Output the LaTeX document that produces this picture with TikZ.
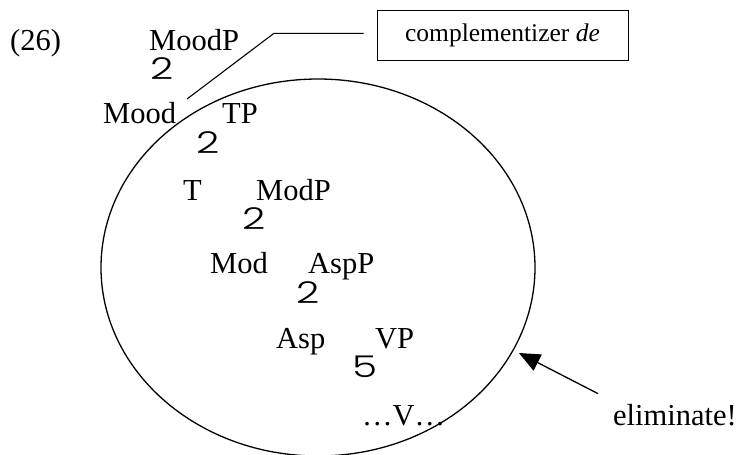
\documentclass[tikz,border=0pt]{standalone}
\usepackage{fontspec}
\setmainfont{Liberation Serif}
\newfontfamily\branchfont{Poppins Light}
\usetikzlibrary{arrows.meta,shapes.geometric,positioning}
\tikzset{
  cat/.style={anchor=base west,inner sep=0pt,font=\fontsize{30.5}{36}\selectfont},
  branch/.style={anchor=base west,inner sep=0pt,font=\branchfont\fontsize{30}{36}\selectfont},
  note/.style={draw,line width=1pt,minimum width=251pt,minimum height=50pt,inner sep=0pt,font=\fontsize{25.5}{30}\selectfont},
  pointer/.style={line width=1.3pt,-{Triangle[length=21pt,width=18pt]}}
}
\newcommand{\wideglyph}[1]{\scalebox{1.35}[1]{#1}}
\begin{document}
\begin{tikzpicture}[x=1pt,y=-1pt]
  \useasboundingbox (0,0) rectangle (737,455);
  \node[cat] (ex) at (10,50) {(26)};
  \node[cat] (moodp) at (149,50) {MoodP};
  \node[branch] (b1) at (150,79) {\wideglyph{2}};
  \node[cat] (mood) at (103,123) {Mood};
  \node[cat] (tp) at (222,123) {TP};
  \node[branch] (b2) at (196,153) {\wideglyph{2}};
  \node[cat] (t) at (183,200) {T};
  \node[cat] (modp) at (256,200) {ModP};
  \node[branch] (b3) at (242,229) {\wideglyph{2}};
  \node[cat] (mod) at (210,273) {Mod};
  \node[cat] (aspp) at (308,273) {AspP};
  \node[branch] (b4) at (296,303) {\wideglyph{2}};
  \node[cat] (asp) at (276,348) {Asp};
  \node[cat] (vp) at (375,348) {VP};
  \node[branch] (b5) at (352,377) {\wideglyph{5}};
  \node[cat] (v) at (362,425) {\dots V\dots};
  \node[cat] (elim) at (613,425) {eliminate!};
  \node[ellipse,draw,line width=1.3pt,minimum width=434pt,minimum height=377pt,inner sep=0pt] (domain) at (318,267.5) {};
  \node[note] (box) at (502.5,35.7) {complementizer \textit{de}};
  \coordinate (pin) at (187,99);
  \coordinate (bend) at (274,33.3);
  \draw[line width=1.1pt] (pin) -- (bend) -- ([shift={(-13pt,2.4pt)}]box.west);
  \coordinate (tip) at (519,353);
  \draw[pointer] ([shift={(-15pt,10pt)}]elim.north west) -- (tip);
\end{tikzpicture}
\end{document}
